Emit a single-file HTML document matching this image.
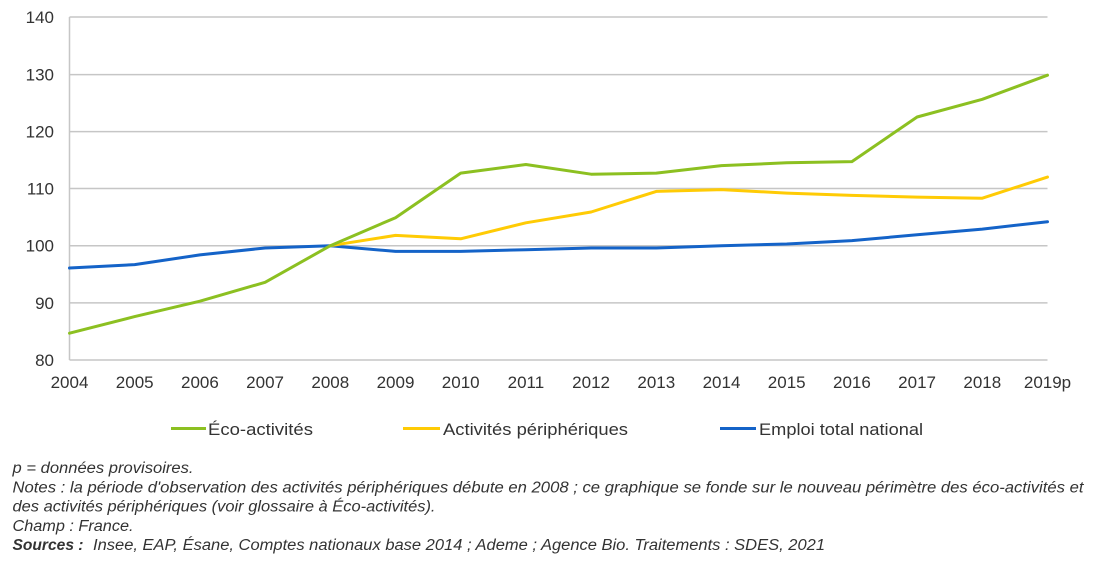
<!DOCTYPE html>
<html>
<head>
<meta charset="utf-8">
<style>
  html, body { margin: 0; padding: 0; background: #ffffff; }
  svg { display: block; }
  .ax { font-family: "Liberation Sans", Arial, sans-serif; font-size: 17px; fill: #333333; }
  .lg { font-family: "Liberation Sans", Arial, sans-serif; font-size: 16.5px; fill: #333333; }
  .nt { font-family: "Liberation Sans", Arial, sans-serif; font-size: 15.5px; font-style: italic; fill: #333333; }
</style>
</head>
<body>
<svg width="1097" height="568" viewBox="0 0 1097 568" xmlns="http://www.w3.org/2000/svg">
  <rect width="1097" height="568" fill="#ffffff"/>
  <!-- gridlines -->
  <g stroke="#c6c6c6" stroke-width="1.5">
    <line x1="69.5" y1="17" x2="1047.5" y2="17"/>
    <line x1="69.5" y1="74.6" x2="1047.5" y2="74.6"/>
    <line x1="69.5" y1="131.6" x2="1047.5" y2="131.6"/>
    <line x1="69.5" y1="188.5" x2="1047.5" y2="188.5"/>
    <line x1="69.5" y1="245.7" x2="1047.5" y2="245.7"/>
    <line x1="69.5" y1="302.9" x2="1047.5" y2="302.9"/>
    <line x1="69.5" y1="360" x2="1047.5" y2="360"/>
    <line x1="69.5" y1="17" x2="69.5" y2="360"/>
  </g>
  <!-- y labels -->
  <g class="ax" text-anchor="end">
    <text x="54" y="23">140</text>
    <text x="54" y="80.5">130</text>
    <text x="54" y="137.5">120</text>
    <text x="54" y="194.5">110</text>
    <text x="54" y="251.7">100</text>
    <text x="54" y="309">90</text>
    <text x="54" y="366">80</text>
  </g>
  <!-- x labels -->
  <g class="ax" text-anchor="middle">
    <text x="69.5" y="388">2004</text>
    <text x="134.7" y="388">2005</text>
    <text x="199.9" y="388">2006</text>
    <text x="265.1" y="388">2007</text>
    <text x="330.3" y="388">2008</text>
    <text x="395.5" y="388">2009</text>
    <text x="460.7" y="388">2010</text>
    <text x="525.9" y="388">2011</text>
    <text x="591.1" y="388">2012</text>
    <text x="656.3" y="388">2013</text>
    <text x="721.5" y="388">2014</text>
    <text x="786.7" y="388">2015</text>
    <text x="851.9" y="388">2016</text>
    <text x="917.1" y="388">2017</text>
    <text x="982.3" y="388">2018</text>
    <text x="1047.5" y="388">2019p</text>
  </g>
  <!-- series -->
  <g fill="none" stroke-width="3" stroke-linejoin="round" stroke-linecap="round">
    <polyline stroke="#1463c8" points="69.5,268 134.7,264.6 199.9,254.9 265.1,248 330.3,245.7 395.5,251.4 460.7,251.4 525.9,249.7 591.1,248 656.3,248 721.5,245.7 786.7,244 851.9,240.6 917.1,234.8 982.3,229.1 1047.5,221.7"/>
    <polyline stroke="#ffcb05" points="330.3,245.7 395.5,235.4 460.7,238.8 525.9,222.8 591.1,212 656.3,191.4 721.5,189.6 786.7,193.1 851.9,195.4 917.1,197.1 982.3,198.2 1047.5,177.1"/>
    <polyline stroke="#8cc021" points="69.5,333.2 134.7,316.6 199.9,301.2 265.1,282.3 330.3,245.7 395.5,217.7 460.7,173.1 525.9,164.5 591.1,174.2 656.3,173.1 721.5,165.6 786.7,162.8 851.9,161.6 917.1,117 982.3,99.3 1047.5,75.2"/>
  </g>
  <!-- legend -->
  <g stroke-width="3">
    <line x1="171" y1="428.5" x2="206" y2="428.5" stroke="#8cc021"/>
    <line x1="403" y1="428.5" x2="440" y2="428.5" stroke="#ffcb05"/>
    <line x1="720" y1="428.5" x2="756" y2="428.5" stroke="#1463c8"/>
  </g>
  <g class="lg">
    <text x="208" y="435" textLength="105" lengthAdjust="spacingAndGlyphs">Éco-activités</text>
    <text x="443" y="435" textLength="185" lengthAdjust="spacingAndGlyphs">Activités périphériques</text>
    <text x="759" y="435" textLength="164" lengthAdjust="spacingAndGlyphs">Emploi total national</text>
  </g>
  <!-- notes -->
  <g class="nt">
    <text x="12.5" y="473" textLength="181" lengthAdjust="spacingAndGlyphs">p = données provisoires.</text>
    <text x="12.5" y="492.5" textLength="1071" lengthAdjust="spacingAndGlyphs">Notes : la période d'observation des activités périphériques débute en 2008 ; ce graphique se fonde sur le nouveau périmètre des éco-activités et</text>
    <text x="12.5" y="511.5" textLength="423" lengthAdjust="spacingAndGlyphs">des activités périphériques (voir glossaire à Éco-activités).</text>
    <text x="12.5" y="531" textLength="121" lengthAdjust="spacingAndGlyphs">Champ : France.</text>
    <text x="12.5" y="550" textLength="71" lengthAdjust="spacingAndGlyphs" font-weight="bold">Sources :</text>
    <text x="93" y="550" textLength="732" lengthAdjust="spacingAndGlyphs">Insee, EAP, Ésane, Comptes nationaux base 2014 ; Ademe ; Agence Bio. Traitements : SDES, 2021</text>
  </g>
</svg>
</body>
</html>
